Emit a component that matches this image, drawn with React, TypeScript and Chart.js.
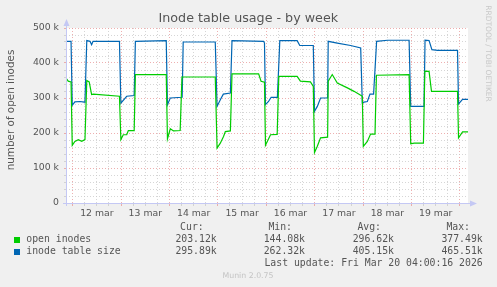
import { useEffect, useRef } from "react";
import { Chart, registerables } from "chart.js";
Chart.register(...registerables);

const chartTitle = "Inode table usage - by week";
const yAxisTitle = "number of open inodes";
const sideText = "RRDTOOL / TOBI OETIKER";
const footerText = "Munin 2.0.75";
const lastUpdate = "Last update: Fri Mar 20 04:00:16 2026";

// x in hours from 12 Mar 00:00
const dayLabels = ["12 mar", "13 mar", "14 mar", "15 mar", "16 mar", "17 mar", "18 mar", "19 mar"];
const yLabelValues = [0, 100, 200, 300, 400, 500];
const yLabelTexts = ["0", "100 k", "200 k", "300 k", "400 k", "500 k"];

const seriesNames = ["open inodes", "inode table size"];
const seriesColors = ["#00cc00", "#0066b3"];
const statHeaders = ["Cur:", "Min:", "Avg:", "Max:"];
const openStats = ["203.12k", "144.08k", "296.62k", "377.49k"];
const tableStats = ["295.89k", "262.32k", "405.15k", "465.51k"];

const tableHours = [-3.3, -0.8, -0.2, 1.1, 3.6, 6.1, 7.0, 8.6, 9.4, 10.1, 23.2, 23.9, 26.8, 30.5, 31.1, 46.4, 47.0, 48.4, 54.3, 54.8, 70.7, 71.6, 73.2, 74.7, 78.2, 79.0, 94.7, 95.1, 95.6, 97.1, 98.4, 101.5, 102.7, 111.3, 112.6, 119.3, 119.9, 121.3, 122.9, 126.4, 126.7, 131.2, 137.8, 142.8, 143.6, 144.4, 146.1, 147.4, 149.2, 150.7, 156.1, 166.8, 167.6, 174.2, 174.7, 176.7, 178.1, 180.9, 190.8, 191.3, 193.3, 196.4];
const tableValues = [462, 462, 279, 289, 290, 288, 464, 462, 452, 462, 462, 285, 305, 307, 462, 464, 281, 300, 302, 460, 460, 276, 295, 311, 314, 464, 462, 457, 281, 290, 302, 302, 464, 464, 450, 450, 262, 276, 300, 300, 462, 457, 450, 443, 286, 288, 290, 311, 311, 462, 465, 465, 276, 276, 465, 464, 438, 436, 436, 283, 296, 296];

const openHours = [-3.3, -2.2, -0.8, -0.2, 1.1, 2.8, 4.5, 6.1, 7.0, 8.2, 9.4, 10.2, 23.2, 23.9, 25.1, 26.8, 27.6, 30.5, 31.1, 46.4, 47.0, 48.4, 50.0, 53.3, 54.2, 70.7, 71.6, 73.2, 74.8, 75.7, 78.2, 79.0, 92.2, 93.4, 95.1, 95.6, 98.1, 101.4, 102.2, 111.3, 112.9, 117.9, 119.3, 119.9, 121.3, 122.9, 126.4, 126.7, 128.7, 131.2, 136.2, 139.5, 142.8, 143.6, 144.1, 146.1, 147.7, 149.9, 150.6, 166.8, 167.6, 169.3, 173.9, 174.6, 176.7, 177.9, 190.8, 191.3, 193.3, 196.4];
const openValues = [357, 348, 346, 165, 176, 181, 176, 181, 350, 346, 310, 311, 305, 181, 195, 195, 207, 207, 367, 367, 183, 212, 206, 207, 360, 360, 157, 171, 190, 204, 206, 369, 369, 348, 345, 165, 195, 196, 362, 362, 348, 346, 333, 144, 162, 186, 188, 348, 367, 343, 329, 319, 308, 305, 162, 176, 197, 197, 365, 367, 169, 171, 171, 377, 376, 319, 319, 186, 203, 203];

const X_MIN = -3.3;
const X_MAX = 196;

const RED_GRID = "rgba(232,150,150,0.75)";
const GRAY_GRID = "rgba(200,200,200,0.75)";
const AXIS_COLOR = "#c4c8f4";
const TEXT = "#555555";

const toPoints = (xs: number[], ys: number[]) => xs.map((x, i) => ({ x, y: ys[i] }));

const decorPlugin = {
  id: "decor",
  beforeDraw(chart: any) {
    const { ctx, chartArea: a, width, height } = chart;
    ctx.save();
    ctx.fillStyle = "#f0f0f0";
    ctx.fillRect(0, 0, width, height);
    ctx.fillStyle = "#ffffff";
    ctx.fillRect(a.left, a.top, a.right - a.left, a.bottom - a.top);
    ctx.restore();
  },
  afterDraw(chart: any) {
    const { ctx, chartArea: a } = chart;
    ctx.save();
    ctx.strokeStyle = AXIS_COLOR;
    ctx.fillStyle = AXIS_COLOR;
    ctx.lineWidth = 1;
    ctx.beginPath();
    ctx.moveTo(a.left + 0.5, a.bottom + 3);
    ctx.lineTo(a.left + 0.5, a.top - 4);
    ctx.moveTo(a.left - 3, a.bottom + 0.5);
    ctx.lineTo(a.right + 4, a.bottom + 0.5);
    ctx.stroke();
    ctx.beginPath();
    ctx.moveTo(a.left + 0.5, a.top - 9);
    ctx.lineTo(a.left - 2.5, a.top - 2);
    ctx.lineTo(a.left + 3.5, a.top - 2);
    ctx.closePath();
    ctx.fill();
    ctx.beginPath();
    ctx.moveTo(a.right + 9, a.bottom + 0.5);
    ctx.lineTo(a.right + 2, a.bottom - 2.5);
    ctx.lineTo(a.right + 2, a.bottom + 3.5);
    ctx.closePath();
    ctx.fill();

    ctx.fillStyle = TEXT;
    ctx.textBaseline = "middle";
    ctx.textAlign = "center";
    ctx.font = "12.7px 'DejaVu Sans'";
    ctx.fillText(chartTitle, 248.3, 19);

    ctx.save();
    ctx.translate(11.7, 110);
    ctx.rotate(-Math.PI / 2);
    ctx.font = "10.4px 'DejaVu Sans'";
    ctx.fillText(yAxisTitle, 0, 0);
    ctx.restore();

    ctx.save();
    ctx.translate(488, 53.5);
    ctx.rotate(Math.PI / 2);
    ctx.fillStyle = "#c8c8c8";
    ctx.font = "7.5px 'DejaVu Sans'";
    ctx.fillText(sideText, 0, 0);
    ctx.restore();

    ctx.fillStyle = "#c4c4c4";
    ctx.font = "7.8px 'DejaVu Sans'";
    ctx.fillText(footerText, 248, 276.3);

    ctx.font = "9.8px 'DejaVu Sans Mono'";
    ctx.fillStyle = TEXT;
    ctx.textAlign = "right";
    const headerRight = [203.7, 292, 381, 470];
    const valueRight = [216.7, 305, 394, 482.7];
    statHeaders.forEach((h, i) => ctx.fillText(h, headerRight[i], 227.3));
    const rows = [openStats, tableStats];
    const rowY = [239.7, 251.7];
    rows.forEach((vals, r) => {
      ctx.fillStyle = seriesColors[r];
      ctx.fillRect(14, rowY[r] - 2.7, 6, 6);
      ctx.fillStyle = TEXT;
      ctx.textAlign = "left";
      ctx.fillText(seriesNames[r], 26.3, rowY[r]);
      ctx.textAlign = "right";
      vals.forEach((v, i) => ctx.fillText(v, valueRight[i], rowY[r]));
    });
    ctx.fillText(lastUpdate, 482.7, 263.5);
    ctx.restore();
  },
};

export default function App() {
  const ref = useRef<HTMLCanvasElement | null>(null);
  useEffect(() => {
    if (!ref.current) return;
    const xTicks: number[] = [];
    for (let h = 0; h <= X_MAX; h += 6) xTicks.push(h);
    const yTicks: number[] = [];
    for (let v = 0; v <= 500; v += 20) yTicks.push(v);

    const chart = new Chart(ref.current, {
      type: "line",
      data: {
        datasets: [
          {
            label: seriesNames[0],
            data: toPoints(openHours, openValues),
            borderColor: seriesColors[0],
            borderWidth: 1.2,
            pointRadius: 0,
            tension: 0,
            fill: false,
          },
          {
            label: seriesNames[1],
            data: toPoints(tableHours, tableValues),
            borderColor: seriesColors[1],
            borderWidth: 1.2,
            pointRadius: 0,
            tension: 0,
            fill: false,
          },
        ],
      },
      options: {
        responsive: false,
        animation: false,
        devicePixelRatio: 1,
        layout: { padding: { top: 28, right: 29, left: 0, bottom: 0 } },
        plugins: { legend: { display: false }, tooltip: { enabled: false }, title: { display: false } },
        scales: {
          x: {
            type: "linear",
            min: X_MIN,
            max: X_MAX,
            afterBuildTicks: (s: any) => {
              s.ticks = xTicks.map((value) => ({ value }));
            },
            afterFit: (s: any) => {
              s.height = 84;
            },
            ticks: {
              autoSkip: false,
              maxRotation: 0,
              padding: 2,
              color: TEXT,
              font: { family: "DejaVu Sans", size: 9.3 },
              callback: (v: any) => {
                const n = Number(v);
                if (n % 24 === 12) return dayLabels[Math.floor(n / 24)] ?? "";
                return "";
              },
            },
            grid: {
              color: (c: any) => (c.tick && c.tick.value % 24 === 0 ? RED_GRID : GRAY_GRID),
              lineWidth: 1,
              drawTicks: true,
              tickLength: 3,
            },
            border: { display: false, dash: (c: any) => (c.tick && c.tick.value % 24 === 0 ? [1, 2] : [1, 2]) },
          },
          y: {
            type: "linear",
            min: 0,
            max: 500,
            afterBuildTicks: (s: any) => {
              s.ticks = yTicks.map((value) => ({ value }));
            },
            afterFit: (s: any) => {
              s.width = 66;
            },
            ticks: {
              autoSkip: false,
              padding: 5,
              color: TEXT,
              font: { family: "DejaVu Sans", size: 9.3 },
              callback: (v: any) => {
                const idx = yLabelValues.indexOf(Number(v));
                return idx >= 0 ? yLabelTexts[idx] : "";
              },
            },
            grid: {
              color: (c: any) => (c.tick && c.tick.value % 100 === 0 ? RED_GRID : GRAY_GRID),
              lineWidth: 1,
              drawTicks: true,
              tickLength: 2,
            },
            border: { display: false, dash: [1, 2] },
          },
        },
      } as any,
      plugins: [decorPlugin],
    });
    return () => chart.destroy();
  }, []);

  return (
    <div style={{ position: "absolute", left: 0, top: 0, width: 497, height: 287 }}>
      <canvas ref={ref} width={497} height={287} style={{ width: 497, height: 287, display: "block" }} />
    </div>
  );
}
